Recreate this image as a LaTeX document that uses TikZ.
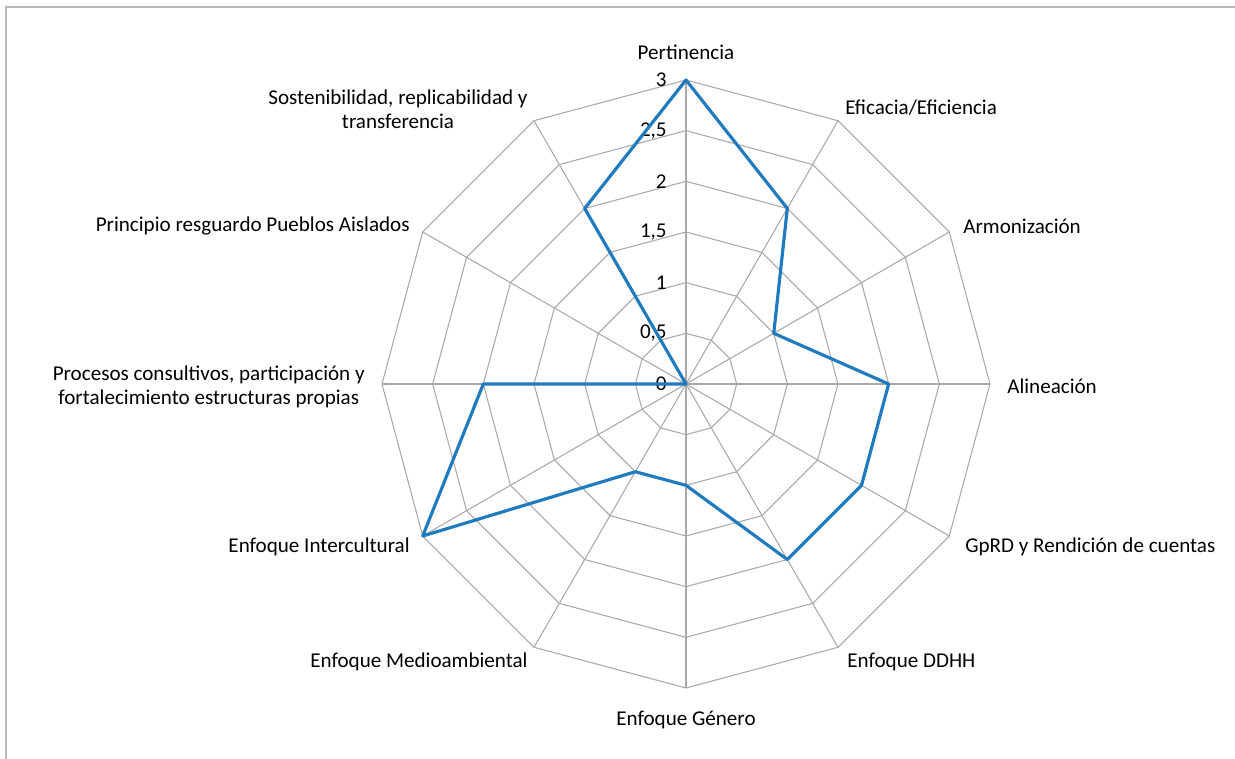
\documentclass[tikz,border=0pt]{standalone}
\usepackage{fontspec}
\setmainfont{Carlito}
\usetikzlibrary{positioning}
\definecolor{sblue}{RGB}{31,122,190}
\definecolor{wgray}{RGB}{168,168,168}
\definecolor{fgray}{RGB}{185,185,185}
\tikzset{web/.style = {draw=wgray, line width=0.6pt}}
\tikzset{frameline/.style = {draw=fgray, line width=1.2pt}}
\tikzset{series/.style = {draw=sblue, line width=1.8pt, line join=round}}
\tikzset{lbl/.style = {inner sep=0, font=\fontsize{12}{13.6}\selectfont, align=center}}
\tikzset{ticklbl/.style = {inner sep=0, anchor=east, font=\fontsize{12}{13.6}\selectfont}}

\begin{document}
\begin{tikzpicture}[x=0.02cm, y=0.02cm]
      \useasboundingbox (-686, -375) rectangle (549, 384);
      \draw [frameline] (-680, -375) -- (-680, 377) -- (549, 377);

      \coordinate (o) at (0, 0);

      % rings and spokes
      \foreach \r in {1,...,6} {
        \draw [web] (90:\r*50.667) \foreach \k in {1,...,11} { -- (90-30*\k:\r*50.667) } -- cycle;
      }
      \foreach \k in {0,...,11} {
        \coordinate (a\k) at (90-30*\k:304);
        \draw [web] (o) -- (a\k);
      }

      % scale
      \foreach \v/\t [count=\i] in {0/0, 0.5/{0,5}, 1/1, 1.5/{1,5}, 2/2, 2.5/{2,5}, 3/3}
        \node [ticklbl] (t\i) at (-19, \v*101.333) {\t};

      % data
      \foreach \k/\v in {0/3, 1/2, 2/1, 3/2, 4/2, 5/2, 6/1, 7/1, 8/3, 9/2, 10/0, 11/2}
        \coordinate (p\k) at (90-30*\k:\v*101.333);
      \draw [series] (p0) -- (p1) -- (p2) -- (p3) -- (p4) -- (p5) -- (p6)
                     -- (p7) -- (p8) -- (p9) -- (p10) -- (p11) -- cycle;

      % axis names
      \node [lbl] (pert) at (0, 332) {Pertinencia};
      \node [lbl, anchor=west] (efic) at (159, 276) {Eficacia/Eficiencia};
      \node [lbl, anchor=west] (armo) at (277, 158) {Armonización};
      \node [lbl, anchor=west] (alin) at (321, -2) {Alineación};
      \node [lbl, anchor=west] (gprd) at (279, -163) {GpRD y Rendición de cuentas};
      \node [lbl, anchor=west] (ddhh) at (161, -278) {Enfoque DDHH};
      \node [lbl] (gene) at (0, -336) {Enfoque Género};
      \node [lbl, anchor=east] (medio) at (-158, -278) {Enfoque Medioambiental};
      \node [lbl, anchor=east] (inter) at (-276, -163) {Enfoque Intercultural};
      \node [lbl, anchor=east] (proc) at (-321, -3) {Procesos consultivos, participación y\\fortalecimiento estructuras propias};
      \node [lbl, anchor=east] (prin) at (-276, 158) {Principio resguardo Pueblos Aislados};
      \node [lbl, anchor=east] (sost) at (-158, 275) {Sostenibilidad, replicabilidad y\\transferencia};
    \end{tikzpicture}
\end{document}
